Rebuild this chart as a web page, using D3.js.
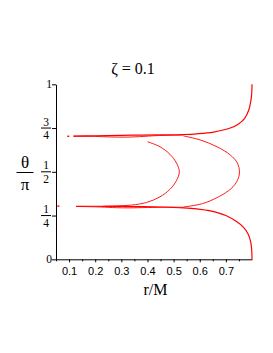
<!DOCTYPE html>
<html>
<head>
<meta charset="utf-8">
<script src="https://cdn.jsdelivr.net/npm/d3@7"></script>
<style>
  body { margin: 0; background: #fff; }
  svg { display: block; font-family: 'Liberation Serif', 'Times New Roman', serif; }
</style>
</head>
<body>
<script>
// Curves, as [r/M, theta/pi]
const upperOuter = [
  [0.800, 1.000], [0.799, 0.950], [0.795, 0.900], [0.787, 0.850], [0.772, 0.805],
  [0.750, 0.775], [0.717, 0.750], [0.653, 0.727], [0.589, 0.717], [0.538, 0.713],
  [0.450, 0.711], [0.372, 0.710], [0.300, 0.708], [0.200, 0.706], [0.116, 0.704]
];
const lowerOuter = [
  [0.800, 0.000], [0.799, 0.050], [0.795, 0.100], [0.785, 0.145], [0.766, 0.185],
  [0.742, 0.214], [0.700, 0.250], [0.640, 0.277], [0.589, 0.288], [0.538, 0.294],
  [0.450, 0.299], [0.372, 0.301], [0.300, 0.302], [0.200, 0.303], [0.127, 0.303]
];
const rightLoop = [
  [0.538, 0.705], [0.602, 0.682], [0.666, 0.643], [0.717, 0.596], [0.744, 0.550],
  [0.752, 0.500], [0.744, 0.450], [0.720, 0.404], [0.672, 0.357], [0.610, 0.318],
  [0.538, 0.299]
];
const leftLoop = [
  [0.400, 0.672], [0.448, 0.643], [0.486, 0.600], [0.511, 0.550], [0.522, 0.500],
  [0.511, 0.450], [0.486, 0.400], [0.448, 0.357], [0.397, 0.325], [0.340, 0.310],
  [0.280, 0.305], [0.230, 0.303]
];
// extra strands that thicken the two horizontal branches
const upperStrand = [
  [0.118, 0.703], [0.200, 0.702], [0.260, 0.699], [0.320, 0.698], [0.370, 0.701],
  [0.440, 0.707], [0.538, 0.709]
];
const lowerStrand = [
  [0.128, 0.302], [0.220, 0.299], [0.280, 0.295], [0.330, 0.294], [0.400, 0.296],
  [0.480, 0.298], [0.538, 0.297]
];
const dots = [[0.097, 0.703], [0.059, 0.304]];

const xTicks = [0.1, 0.2, 0.3, 0.4, 0.5, 0.6, 0.7];
const xMinor = [0.05, 0.15, 0.25, 0.35, 0.45, 0.55, 0.65, 0.75];
const yTicks = [0, 0.25, 0.5, 0.75, 1];
const yLabels = [['0'], ['1', '4'], ['1', '2'], ['3', '4'], ['1']];

document.addEventListener('DOMContentLoaded', () => {
  const width = 273;
  const height = 353;

  const svg = d3.select('body')
    .append('svg')
    .attr('width', width)
    .attr('height', height);

  // Scales
  const xScale = d3.scaleLinear().domain([0.05, 0.8]).range([56, 252]);
  const yScale = d3.scaleLinear().domain([0, 1]).range([259.3, 84.3]);

  // X axis
  svg.append('g')
    .attr('transform', `translate(0, ${yScale(0)})`)
    .call(d3.axisBottom(xScale).tickValues(xMinor).tickSize(2).tickFormat(''))
    .call(g => g.select('.domain').remove());

  svg.append('g')
    .attr('transform', `translate(0, ${yScale(0)})`)
    .call(d3.axisBottom(xScale).tickValues(xTicks).tickSize(3).tickSizeOuter(0)
      .tickPadding(5).tickFormat(d3.format('.1f')))
    .call(g => g.selectAll('text').attr('font-size', 11).attr('font-family', null));

  // Y axis
  svg.append('g')
    .attr('transform', `translate(${xScale(0.05)}, 0)`)
    .call(d3.axisLeft(yScale).tickValues(yTicks).tickSize(4).tickSizeOuter(0).tickFormat(''));

  // Y tick labels, fractions drawn by hand
  const yl = svg.append('g').attr('font-size', 11.5).attr('fill', '#000');
  yTicks.forEach((v, i) => {
    const lab = yLabels[i];
    const ty = yScale(v);
    if (lab.length === 1) {
      yl.append('text')
        .attr('x', 52)
        .attr('y', ty)
        .attr('dy', '0.35em')
        .attr('text-anchor', 'end')
        .text(lab[0]);
    } else {
      yl.append('text').attr('x', 46).attr('y', ty - 2.5).attr('text-anchor', 'middle').text(lab[0]);
      yl.append('line')
        .attr('x1', 41).attr('x2', 51)
        .attr('y1', ty).attr('y2', ty)
        .attr('stroke', '#000').attr('stroke-width', 1);
      yl.append('text').attr('x', 46).attr('y', ty + 11).attr('text-anchor', 'middle').text(lab[1]);
    }
  });

  // Curves
  const line = d3.line()
    .x(d => xScale(d[0]))
    .y(d => yScale(d[1]))
    .curve(d3.curveCatmullRom);

  const curves = [
    [upperOuter, 1.2], [lowerOuter, 1.2],
    [upperStrand, 0.9], [lowerStrand, 0.9],
    [rightLoop, 0.9], [leftLoop, 0.9]
  ];
  svg.append('g')
    .selectAll('path')
    .data(curves)
    .enter()
    .append('path')
    .attr('d', d => line(d[0]))
    .attr('fill', 'none')
    .attr('stroke', '#ff0000')
    .attr('stroke-width', d => d[1]);

  svg.append('g')
    .selectAll('rect')
    .data(dots)
    .enter()
    .append('rect')
    .attr('x', d => xScale(d[0]) - 1)
    .attr('y', d => yScale(d[1]) - 0.7)
    .attr('width', 2)
    .attr('height', 1.4)
    .attr('fill', '#ff0000');

  // Title
  svg.append('text')
    .attr('x', 133)
    .attr('y', 74)
    .attr('text-anchor', 'middle')
    .attr('font-size', 16)
    .text('ζ = 0.1');

  // Axis titles
  svg.append('text')
    .attr('x', 155.5)
    .attr('y', 295)
    .attr('text-anchor', 'middle')
    .attr('font-size', 16)
    .text('r/M');

  svg.append('text')
    .attr('x', 25)
    .attr('y', 168)
    .attr('text-anchor', 'middle')
    .attr('font-size', 17)
    .text('θ');
  svg.append('line')
    .attr('x1', 16.5).attr('x2', 33.5)
    .attr('y1', 172.5).attr('y2', 172.5)
    .attr('stroke', '#000').attr('stroke-width', 1);
  svg.append('text')
    .attr('x', 25)
    .attr('y', 190)
    .attr('text-anchor', 'middle')
    .attr('font-size', 17)
    .text('π');
});
</script>
</body>
</html>
